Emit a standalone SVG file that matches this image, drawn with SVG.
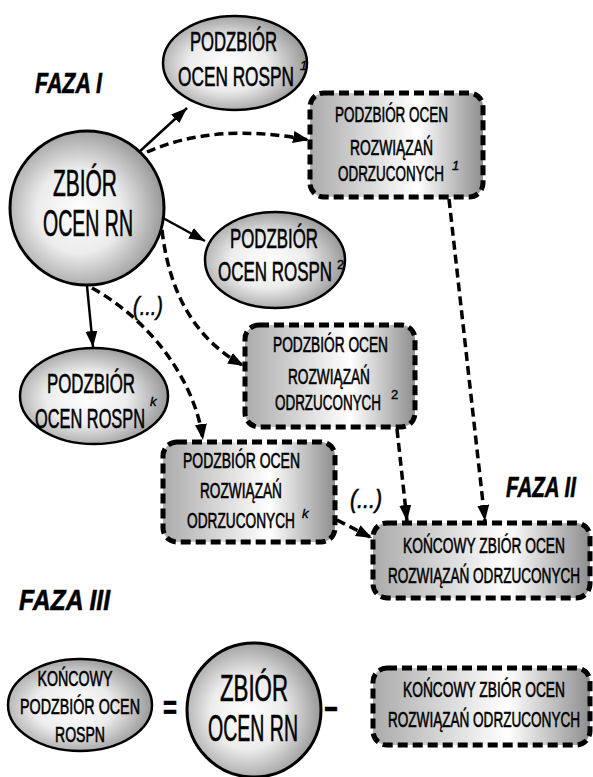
<svg xmlns="http://www.w3.org/2000/svg" width="593" height="777" viewBox="0 0 593 777">
  <defs>
    <radialGradient id="gRound" cx="0.45" cy="0.52" r="0.55">
      <stop offset="0" stop-color="#ffffff"/>
      <stop offset="0.5" stop-color="#ececec"/>
      <stop offset="1" stop-color="#999999"/>
    </radialGradient>
    <linearGradient id="gBox" x1="0" y1="0" x2="1" y2="0">
      <stop offset="0" stop-color="#ababab"/>
      <stop offset="0.62" stop-color="#ffffff"/>
      <stop offset="1" stop-color="#8e8e8e"/>
    </linearGradient>
    <marker id="arrow" markerUnits="userSpaceOnUse" markerWidth="18" markerHeight="13" refX="16" refY="6" orient="auto">
      <path d="M0,0 L16,6 L0,12 z" fill="#000"/>
    </marker>
  </defs>
  <style>
    .round { fill: url(#gRound); stroke: #000; stroke-width: 2.5; }
    .big { fill: url(#gRound); stroke: #000; stroke-width: 3; }
    .box { fill: url(#gBox); stroke: #000; stroke-width: 5; stroke-dasharray: 10 5; }
    .solid { fill: none; stroke: #000; stroke-width: 2.5; }
    .dash { fill: none; stroke: #000; stroke-width: 3.5; stroke-dasharray: 9 5; }
    text { font-family: "Liberation Sans", Arial, sans-serif; fill: #000; text-anchor: middle; stroke: #000; stroke-width: 0.6; }
    .t34 { font-size: 36px; }
    .t25 { font-size: 27px; }
    .t20 { font-size: 21.5px; }
    .sup { font-size: 13px; font-style: italic; text-anchor: start; stroke-width: 0.4; }
    .phase { font-size: 30px; font-weight: bold; font-style: italic; text-anchor: start; }
    .dots { font-size: 25px; font-style: italic; }
    .op { font-size: 34px; font-weight: bold; }
  </style>

  <!-- phase labels -->
  <g id="labels">
    <text class="phase" x="35" y="93" textLength="67" lengthAdjust="spacingAndGlyphs">FAZA I</text>
    <text class="phase" x="506" y="497" textLength="70" lengthAdjust="spacingAndGlyphs">FAZA II</text>
    <text class="phase" x="19" y="610" textLength="91" lengthAdjust="spacingAndGlyphs">FAZA III</text>
    <text class="dots" x="148" y="315" textLength="30" lengthAdjust="spacingAndGlyphs">(...)</text>
    <text class="dots" x="366" y="508" textLength="32" lengthAdjust="spacingAndGlyphs">(...)</text>
  </g>

  <!-- connectors -->
  <g id="connectors">
    <path class="solid" d="M138,153 L187,108" marker-end="url(#arrow)"/>
    <path class="solid" d="M163,218 L205,241" marker-end="url(#arrow)"/>
    <path class="solid" d="M87,286 L93,347" marker-end="url(#arrow)"/>
    <path class="dash" d="M147,152 Q215,122 309,140" marker-end="url(#arrow)"/>
    <path class="dash" d="M162,230 C170,300 200,342 244,366" marker-end="url(#arrow)"/>
    <path class="dash" d="M92,288 C150,320 195,380 203,440" marker-end="url(#arrow)"/>
    <path class="dash" d="M449,199 L485,521" marker-end="url(#arrow)"/>
    <path class="dash" d="M397,429 L407,521" marker-end="url(#arrow)"/>
    <path class="dash" d="M337,520 L372,538" marker-end="url(#arrow)"/>
  </g>

  <!-- phase I -->
  <g id="zbior-rn">
    <circle class="big" cx="87" cy="208" r="77"/>
    <text class="t34" x="85" y="196" textLength="64" lengthAdjust="spacingAndGlyphs">ZBIÓR</text>
    <text class="t34" x="88" y="236" textLength="90" lengthAdjust="spacingAndGlyphs">OCEN RN</text>
  </g>

  <g id="rospn-1">
    <ellipse class="round" cx="235" cy="63" rx="72" ry="47"/>
    <text class="t25" x="233.5" y="51" textLength="87" lengthAdjust="spacingAndGlyphs">PODZBIÓR</text>
    <text class="t25" x="236" y="86" textLength="116" lengthAdjust="spacingAndGlyphs">OCEN ROSPN</text>
    <text class="sup" x="300" y="70">1</text>
  </g>

  <g id="rospn-2">
    <ellipse class="round" cx="275" cy="260" rx="70" ry="48"/>
    <text class="t25" x="274" y="248" textLength="88" lengthAdjust="spacingAndGlyphs">PODZBIÓR</text>
    <text class="t25" x="275" y="281" textLength="114" lengthAdjust="spacingAndGlyphs">OCEN ROSPN</text>
    <text class="sup" x="337" y="269" style="font-style:normal">2</text>
  </g>

  <g id="rospn-k">
    <ellipse class="round" cx="94" cy="396" rx="74" ry="48"/>
    <text class="t25" x="91" y="393" textLength="88" lengthAdjust="spacingAndGlyphs">PODZBIÓR</text>
    <text class="t25" x="90" y="428" textLength="110" lengthAdjust="spacingAndGlyphs">OCEN ROSPN</text>
    <text class="sup" x="150" y="406">k</text>
  </g>

  <g id="odrzucone-1">
    <rect class="box" x="310" y="93" width="173" height="104" rx="14"/>
    <text class="t20" x="391.5" y="122" textLength="113" lengthAdjust="spacingAndGlyphs">PODZBIÓR OCEN</text>
    <text class="t20" x="391.5" y="155" textLength="83" lengthAdjust="spacingAndGlyphs">ROZWIĄZAŃ</text>
    <text class="t20" x="391" y="181" textLength="106" lengthAdjust="spacingAndGlyphs">ODRZUCONYCH</text>
    <text class="sup" x="452" y="170">1</text>
  </g>

  <g id="odrzucone-2">
    <rect class="box" x="245" y="325" width="170" height="102" rx="14"/>
    <text class="t20" x="330.5" y="352" textLength="115" lengthAdjust="spacingAndGlyphs">PODZBIÓR OCEN</text>
    <text class="t20" x="329" y="384" textLength="82" lengthAdjust="spacingAndGlyphs">ROZWIĄZAŃ</text>
    <text class="t20" x="328" y="410" textLength="106" lengthAdjust="spacingAndGlyphs">ODRZUCONYCH</text>
    <text class="sup" x="391" y="399" style="font-style:normal">2</text>
  </g>

  <g id="odrzucone-k">
    <rect class="box" x="163" y="442" width="172" height="100" rx="14"/>
    <text class="t20" x="241.5" y="468" textLength="117" lengthAdjust="spacingAndGlyphs">PODZBIÓR OCEN</text>
    <text class="t20" x="241" y="498" textLength="82" lengthAdjust="spacingAndGlyphs">ROZWIĄZAŃ</text>
    <text class="t20" x="241" y="528" textLength="108" lengthAdjust="spacingAndGlyphs">ODRZUCONYCH</text>
    <text class="sup" x="302" y="518">k</text>
  </g>

  <!-- phase II -->
  <g id="koncowy-odrzucone">
    <rect class="box" x="373" y="523" width="217" height="75" rx="14"/>
    <text class="t20" x="484" y="553" textLength="162" lengthAdjust="spacingAndGlyphs">KOŃCOWY ZBIÓR OCEN</text>
    <text class="t20" x="484" y="583" textLength="192" lengthAdjust="spacingAndGlyphs">ROZWIĄZAŃ ODRZUCONYCH</text>
  </g>

  <!-- phase III -->
  <g id="koncowy-rospn">
    <ellipse class="round" cx="80" cy="705" rx="72" ry="46"/>
    <text class="t20" x="75" y="686" textLength="75" lengthAdjust="spacingAndGlyphs">KOŃCOWY</text>
    <text class="t20" x="80" y="714" textLength="120" lengthAdjust="spacingAndGlyphs">PODZBIÓR OCEN</text>
    <text class="t20" x="80" y="742" textLength="50" lengthAdjust="spacingAndGlyphs">ROSPN</text>
  </g>

  <text class="op" x="170" y="719" textLength="14" lengthAdjust="spacingAndGlyphs">=</text>

  <g id="zbior-rn-2">
    <circle class="big" cx="254" cy="710" r="67"/>
    <text class="t34" x="254" y="701" textLength="68" lengthAdjust="spacingAndGlyphs">ZBIÓR</text>
    <text class="t34" x="253" y="741" textLength="90" lengthAdjust="spacingAndGlyphs">OCEN RN</text>
  </g>

  <text class="op" x="331" y="718" textLength="15" lengthAdjust="spacingAndGlyphs">-</text>

  <g id="koncowy-odrzucone-2">
    <rect class="box" x="373" y="668" width="217" height="77" rx="14"/>
    <text class="t20" x="484" y="697" textLength="162" lengthAdjust="spacingAndGlyphs">KOŃCOWY ZBIÓR OCEN</text>
    <text class="t20" x="484" y="727" textLength="192" lengthAdjust="spacingAndGlyphs">ROZWIĄZAŃ ODRZUCONYCH</text>
  </g>
</svg>
